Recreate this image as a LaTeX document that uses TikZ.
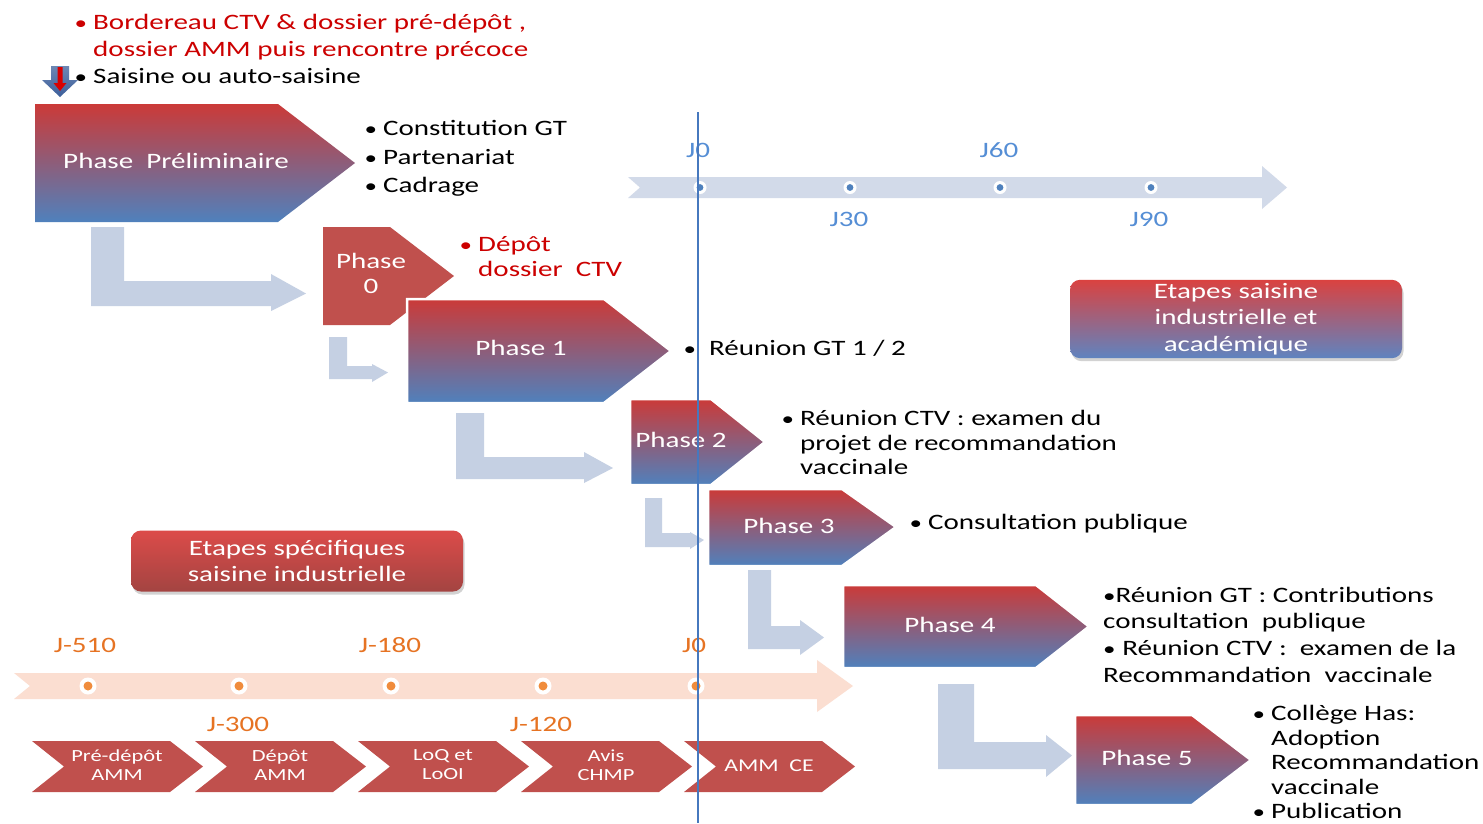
\documentclass[tikz,border=0pt]{standalone}
\usepackage{fontspec}
\setmainfont{Carlito}[FakeStretch=1.32]
\usetikzlibrary{shadows}
\definecolor{phred}{RGB}{203,58,56}
\definecolor{phblue}{RGB}{79,129,189}
\definecolor{solidred}{RGB}{192,80,77}
\definecolor{arrowblue}{RGB}{197,208,227}
\definecolor{tlblue}{RGB}{210,218,233}
\definecolor{tlpeach}{RGB}{251,222,209}
\definecolor{txtred}{RGB}{204,0,0}
\definecolor{lblblue}{RGB}{85,142,213}
\definecolor{lblorange}{RGB}{230,115,35}
\definecolor{dotorange}{RGB}{240,140,60}
\definecolor{vline}{RGB}{70,120,190}
\definecolor{darrow}{RGB}{60,95,155}
\definecolor{boxred}{RGB}{218,66,64}
\definecolor{boxblue}{RGB}{95,132,192}
\newcommand\sbul{{\fontsize{19}{19}\selectfont\textbullet}}
\newcommand\bul{\llap{\sbul\hspace{6pt}}}
\newcommand\bentarrow[9]{\fill[arrowblue] (#1,#3) -- (#2,#3) -- (#2,#4) -- (#6,#4) -- (#6,#7) -- (#9,{(#4+#5)/2}) -- (#6,#8) -- (#6,#5) -- (#1,#5) -- cycle;}
\tikzset{
  txt/.style={inner sep=0pt, anchor=west, align=left, font=\fontsize{22}{27}\selectfont},
  lbl/.style={inner sep=0pt, text=white, align=center, font=\fontsize{22}{25}\selectfont},
  tl/.style={inner sep=0pt, font=\fontsize{22}{27}\selectfont},
  chevtxt/.style={inner sep=0pt, text=white, align=center, font=\fontsize{17}{19}\selectfont},
  phase/.style={top color=phred, bottom color=phblue, draw=white, line width=2.5pt},
  solidphase/.style={fill=solidred, draw=white, line width=2.5pt},
  chev/.style={fill=solidred},
}
\begin{document}
\begin{tikzpicture}[x=1pt,y=-1pt]
\useasboundingbox[fill=white] (0,0) rectangle (1483,823);

% ---- top timeline
\fill[tlblue] (628,177) -- (1262,177) -- (1262,166) -- (1287,187.5) -- (1262,209) -- (1262,198) -- (628,198) -- (640,187.5) -- cycle;
\foreach \x in {700,850,1000,1151}{
  \fill[white] (\x,187.5) circle (6.5);
  \fill[phblue] (\x,187.5) circle (3.4);
}
\node[tl, text=lblblue] (j0t) at (698,150) {J0};
\node[tl, text=lblblue] (j60) at (999,150) {J60};
\node[tl, text=lblblue] (j30) at (849,219) {J30};
\node[tl, text=lblblue] (j90) at (1149,219) {J90};

% ---- bent arrows
\bentarrow{91}{124}{227}{281}{306}{271}{274}{311}{306}
\bentarrow{329}{347}{337}{366}{379}{372}{364}{382}{388}
\bentarrow{456}{484}{413}{457}{479}{584}{452}{483}{613}
\bentarrow{645}{662}{498}{533}{547}{690}{532}{549}{704}
\bentarrow{748}{771}{570}{626}{649}{800}{620}{655}{824}
\bentarrow{938}{974}{684}{742}{769}{1046}{735}{777}{1072}

% ---- down arrow
\shade[top color=darrow!75!white, bottom color=darrow] (51,66) -- (69,66) -- (69,80) -- (78,80) -- (60,97) -- (42,80) -- (51,80) -- cycle;
\fill[red!85!black] (57.5,67) -- (62.5,67) -- (62.5,83) -- (66.5,83) -- (60,91) -- (53.5,83) -- (57.5,83) -- cycle;

% ---- phases
\shadedraw[phase, draw=none] (35,104) -- (278,104) -- (355,163) -- (278,222) -- (35,222) -- cycle;
\node[lbl] (pp) at (176,161) {Phase\ \ Préliminaire};

\filldraw[solidphase, draw=none] (323,227) -- (390,227) -- (454,276) -- (390,325) -- (323,325) -- cycle;
\node[lbl] (p0) at (371,273.5) {Phase\\0};

\shadedraw[phase] (407,299) -- (604,299) -- (671,351) -- (604,403) -- (407,403) -- cycle;
\node[lbl] (p1) at (521,348) {Phase 1};

\shadedraw[phase] (630,399) -- (711,399) -- (765,442) -- (711,485) -- (630,485) -- cycle;
\node[lbl] (p2) at (681,440) {Phase 2};

\shadedraw[phase] (708,489) -- (842,489) -- (896,527) -- (842,566) -- (708,566) -- cycle;
\node[lbl] (p3) at (789,526) {Phase 3};

\shadedraw[phase] (843,585) -- (1036,585) -- (1089,626.5) -- (1036,668) -- (843,668) -- cycle;
\node[lbl] (p4) at (950,625) {Phase 4};

\shadedraw[phase] (1075,715) -- (1192,715) -- (1251,760) -- (1192,805) -- (1075,805) -- cycle;
\node[lbl] (p5) at (1147,758) {Phase 5};

% ---- phase texts
\node[txt, text=txtred] (bord) at (93,37) {\bul Bordereau CTV \& dossier pré-dépôt ,\\dossier AMM puis rencontre précoce};
\node[txt] (sais) at (93,76) {\bul Saisine ou auto-saisine};
\node[txt, font=\fontsize{22}{28.5}\selectfont] (cons) at (383,158.5) {\bul Constitution GT\\\bul Partenariat\\\bul Cadrage};
\node[txt, text=txtred, font=\fontsize{22}{25}\selectfont] (depot) at (478,256.5) {\bul Dépôt\\dossier\ \ CTV};
\node[txt] (rgt) at (709,348) {\llap{\sbul\hspace{13pt}}Réunion GT 1 / 2};
\node[txt, font=\fontsize{22}{24.5}\selectfont] (rctv) at (800,442.5) {\bul Réunion CTV : examen du\\projet de recommandation\\vaccinale};
\node[txt] (consul) at (928,524) {\bul Consultation publique};
\node[txt, font=\fontsize{22}{26.7}\selectfont] (p4t) at (1103,634.5) {\sbul Réunion GT : Contributions\\consultation\ \ publique\\\sbul\ Réunion CTV :\ \ examen de la\\Recommandation\ \ vaccinale};
\node[txt, font=\fontsize{22}{24.5}\selectfont] (p5t) at (1271,762) {\bul Collège Has:\\Adoption\\Recommandation\\vaccinale\\\bul Publication};

% ---- legend boxes
\node[rectangle, rounded corners=10pt, top color=boxred, bottom color=boxblue, drop shadow={opacity=0.35, shadow xshift=1.5pt, shadow yshift=-3pt},
  minimum width=332pt, minimum height=78pt, text=white, align=center, font=\fontsize{22}{26.5}\selectfont] (etsa) at (1236,319) {Etapes saisine\\industrielle et\\académique};
\node[rectangle, rounded corners=10pt, top color=boxred!95!white, bottom color=solidred!85!black, drop shadow={opacity=0.35, shadow xshift=1.5pt, shadow yshift=-3pt},
  minimum width=332pt, minimum height=61pt, text=white, align=center, font=\fontsize{22}{26}\selectfont] (etsp) at (297,561) {Etapes spécifiques\\saisine industrielle};

% ---- bottom timeline
\fill[tlpeach] (14,673) -- (817,673) -- (817,660) -- (853,686) -- (817,712) -- (817,699) -- (14,699) -- (30,686) -- cycle;
\foreach \x in {88,239,391,543,696}{
  \fill[white] (\x,686) circle (8.5);
  \fill[dotorange] (\x,686) circle (4.5);
}
\node[tl, text=lblorange] (jm510) at (85,645) {J-510};
\node[tl, text=lblorange] (jm180) at (390,645) {J-180};
\node[tl, text=lblorange] (j0b) at (694,645) {J0};
\node[tl, text=lblorange] (jm300) at (238,724) {J-300};
\node[tl, text=lblorange] (jm120) at (541,724) {J-120};

% ---- bottom chevrons
\foreach \s in {32,195,358,521,684}{
  \fill[chev] (\s,741) -- ({\s+138},741) -- ({\s+171},766.5) -- ({\s+138},792) -- (\s,792) -- ({\s+32},766.5) -- cycle;
}
\node[chevtxt] (c1) at (117,765) {Pré-dépôt\\AMM};
\node[chevtxt] (c2) at (280,765) {Dépôt\\AMM};
\node[chevtxt] (c3) at (443,765) {LoQ et\\LoOI};
\node[chevtxt] (c4) at (606,765) {Avis\\CHMP};
\node[chevtxt, font=\fontsize{18}{20}\selectfont] (c5) at (769,766) {AMM\ \ CE};

% ---- vertical J0 line
\draw[vline, line width=1.2pt] (698,112) -- (698,823);
\end{tikzpicture}
\end{document}
